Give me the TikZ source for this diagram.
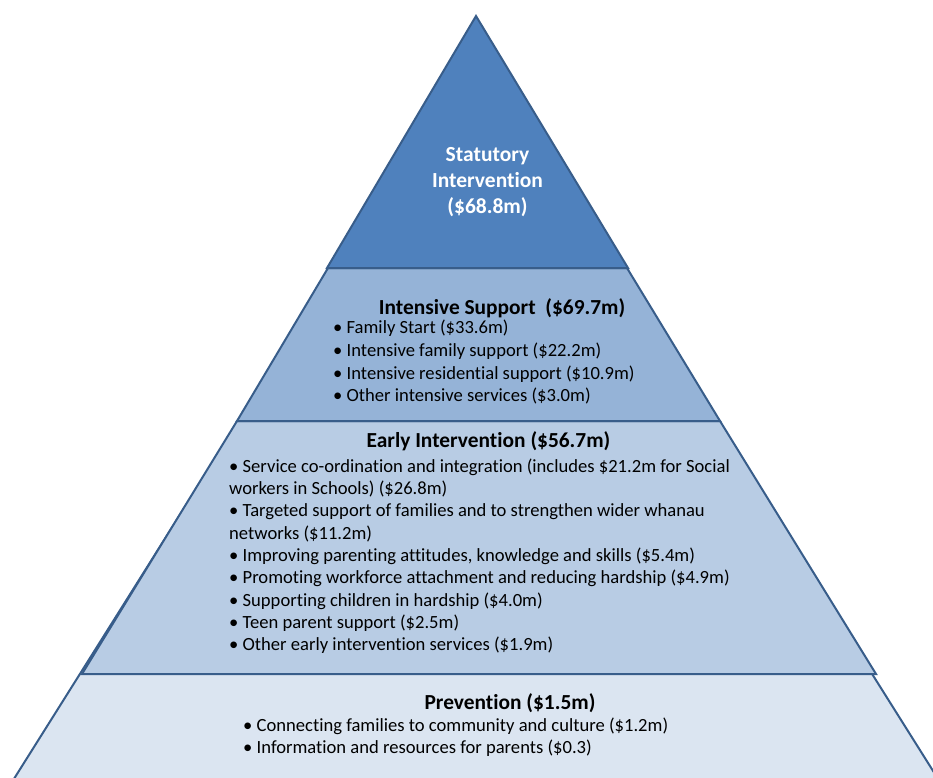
\documentclass[tikz,border=0pt]{standalone}
\usepackage{fontspec}
\setmainfont{Carlito}[Ligatures={NoCommon}]
\definecolor{topblue}{HTML}{4F81BD}
\definecolor{midblue}{HTML}{95B3D7}
\definecolor{lowblue}{HTML}{B8CCE4}
\definecolor{baseblue}{HTML}{DBE5F1}
\definecolor{edgeblue}{HTML}{385D8A}
\tikzset{
  band/.style={draw=edgeblue, line width=2pt, line join=miter},
  bodytext/.style={inner sep=0pt, align=left, anchor=north west, text=black},
  headtext/.style={inner sep=0pt, anchor=base, text=black,
    font=\fontsize{21.4}{26}\selectfont\bfseries},
}
\begin{document}
\begin{tikzpicture}[x=1pt,y=-1pt]
\useasboundingbox (0,0) rectangle (933,777);
\clip (0,0) rectangle (933,777);
% prevention level (large triangle behind)
\fill[baseblue] (476,44) -- (-27,844) -- (979,844) -- cycle;
\draw[band] (-27,844) -- (476,44) -- (979,844);
% early intervention band
\path[band, fill=lowblue] (237,421) -- (720,421) -- (876,674) -- (82,674) -- cycle;
% intensive support band
\path[band, fill=midblue] (328,268) -- (627,268) -- (720,421) -- (237,421) -- cycle;
% statutory triangle
\path[band, fill=topblue] (476,16) -- (628,268) -- (327,268) -- cycle;

\node[inner sep=0pt, align=center, anchor=north, text=white,
  font=\fontsize{21.5}{26}\selectfont\bfseries] (stat) at (487.5,147)
  {Statutory\\Intervention\\(\$68.8m)};

\node[headtext] (ish) at (502,314) {Intensive Support\ \ (\$69.7m)};
\node[bodytext, font=\fontsize{18.6}{22.7}\selectfont] (isl) at (333,320) {%
• Family Start (\$33.6m)\\
• Intensive family support (\$22.2m)\\
• Intensive residential support (\$10.9m)\\
• Other intensive services (\$3.0m)};

\node[headtext] (eih) at (488.5,447.5) {Early Intervention (\$56.7m)};
\node[bodytext, font=\fontsize{18.6}{22.3}\selectfont] (eil) at (229,458.5) {%
• Service co-ordination and integration (includes \$21.2m for Social\\
workers in Schools) (\$26.8m)\\
• Targeted support of families and to strengthen wider whanau\\
networks (\$11.2m)\\
• Improving parenting attitudes, knowledge and skills (\$5.4m)\\
• Promoting workforce attachment and reducing hardship (\$4.9m)\\
• Supporting children in hardship (\$4.0m)\\
• Teen parent support (\$2.5m)\\
• Other early intervention services (\$1.9m)};

\node[headtext] (pvh) at (510,709) {Prevention (\$1.5m)};
\node[bodytext, font=\fontsize{18.6}{22}\selectfont] (pvl) at (243,718) {%
• Connecting families to community and culture (\$1.2m)\\
• Information and resources for parents (\$0.3)};
\end{tikzpicture}
\end{document}
